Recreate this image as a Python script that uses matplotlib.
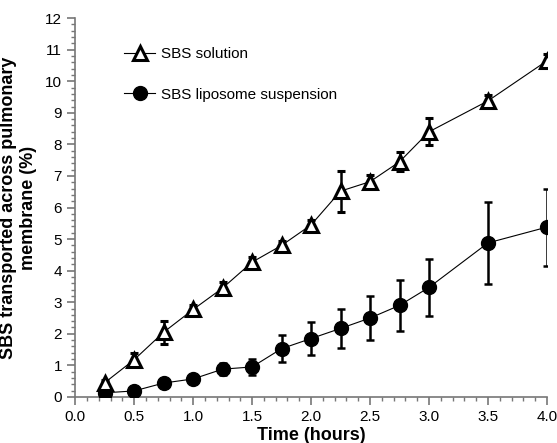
import matplotlib
matplotlib.use('Agg')
from matplotlib import pyplot as plt
from matplotlib.ticker import MultipleLocator
from matplotlib.lines import Line2D

plt.rcParams['font.family'] = ['Liberation Sans', 'DejaVu Sans']

time = [0.25, 0.5, 0.75, 1.0, 1.25, 1.5, 1.75, 2.0, 2.25, 2.5, 2.75, 3.0, 3.5, 4.0]
solution = [0.45, 1.18, 2.05, 2.77, 3.45, 4.27, 4.8, 5.45, 6.52, 6.82, 7.45, 8.4, 9.38, 10.65]
solution_err = [0.1, 0.2, 0.36, 0.15, 0.2, 0.15, 0.15, 0.15, 0.65, 0.2, 0.3, 0.43, 0.2, 0.2]
liposome = [0.13, 0.19, 0.44, 0.57, 0.88, 0.95, 1.53, 1.85, 2.17, 2.5, 2.9, 3.47, 4.88, 5.38]
liposome_err = [0.05, 0.05, 0.08, 0.1, 0.2, 0.25, 0.43, 0.53, 0.62, 0.7, 0.8, 0.9, 1.3, 1.22]

fig = plt.figure(figsize=(5.57, 4.43), dpi=100)
ax = fig.add_axes([0.135, 0.104, 0.847, 0.855])

ax.errorbar(time, liposome, yerr=liposome_err, fmt='-o', color='black',
            ecolor='black', elinewidth=1.8, capsize=3, capthick=1.8,
            markersize=10, linewidth=0.8, zorder=3)
ax.errorbar(time, solution, yerr=solution_err, fmt='-^', color='black',
            ecolor='black', elinewidth=1.8, capsize=3, capthick=1.8,
            markersize=10, markerfacecolor='white', markeredgewidth=2.2,
            linewidth=0.8, zorder=4)

ax.set_xlim(0, 4.0)
ax.set_ylim(0, 12)
ax.xaxis.set_major_locator(MultipleLocator(0.5))
ax.xaxis.set_minor_locator(MultipleLocator(0.1))
ax.yaxis.set_major_locator(MultipleLocator(1))
ax.yaxis.set_minor_locator(MultipleLocator(0.2))
ax.set_xticklabels(['%.1f' % v for v in ax.get_xticks()])

for s in ['top', 'right']:
    ax.spines[s].set_visible(False)
for s in ['left', 'bottom']:
    ax.spines[s].set_color('#777777')
    ax.spines[s].set_linewidth(1.2)
ax.tick_params(which='major', length=6, width=1.2, color='#777777', labelsize=11)
ax.tick_params(which='minor', length=3, width=1, color='#777777')

ax.set_xlabel('Time (hours)', fontsize=13, fontweight='bold', labelpad=2)
ax.set_ylabel('SBS transported across pulmonary\nmembrane (%)', fontsize=13,
              fontweight='bold', labelpad=6)

handles = [
    Line2D([], [], color='black', linewidth=0.8, marker='^', markersize=10,
           markerfacecolor='white', markeredgewidth=2.2),
    Line2D([], [], color='black', linewidth=0.8, marker='o', markersize=10),
]
ax.legend(handles, ['SBS solution', 'SBS liposome suspension'], loc='upper left',
          bbox_to_anchor=(0.075, 0.96), frameon=False, fontsize=11,
          handlelength=2.0, labelspacing=1.75, handletextpad=0.4)

plt.savefig('out.png', dpi=100)
